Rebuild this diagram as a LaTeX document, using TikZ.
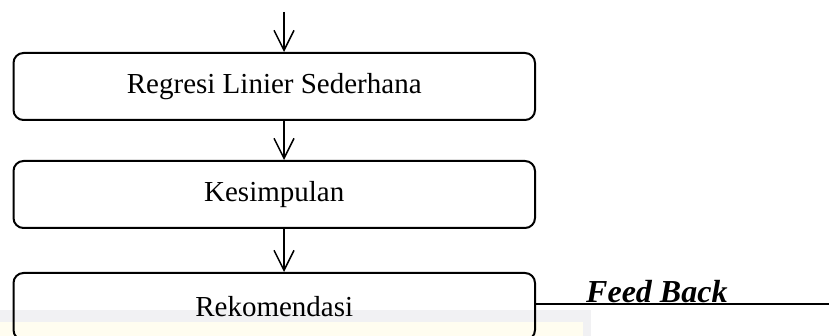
\documentclass[tikz,border=0pt]{standalone}
\usepackage{fontspec}
\setmainfont{Liberation Serif}
\usetikzlibrary{arrows.meta}
\tikzset{
  flowbox/.style={draw, line width=2pt, rounded corners=10pt,
    minimum width=521.5pt, minimum height=67pt, inner sep=0pt,
    font=\fontsize{29}{34}\selectfont},
  flowarrow/.style={line width=1.5pt, -{Straight Barb[length=20pt,width=20pt,line width=1.5pt]}},
  feedline/.style={line width=1.4pt},
}
\begin{document}
\begin{tikzpicture}[x=1pt,y=-1pt]
  \useasboundingbox (0,0) rectangle (829,336);
  % faint highlight strip behind the last box
  \fill[fill={rgb,255:red,241;green,241;blue,243}] (0,310) rectangle (591,340);
  \fill[fill={rgb,255:red,255;green,253;blue,240}] (0,322) rectangle (583,340);

  \node[flowbox] (reg) at (274.25,86.5) {Regresi Linier Sederhana};
  \node[flowbox] (kes) at (274.25,194.5) {Kesimpulan};
  \node[flowbox] (rek) at (274.25,306.5) {Rekomendasi};

  \coordinate (ax) at (284,0);
  \coordinate (start) at (284,12);
  \coordinate (fbend) at (829,304);

  \draw[flowarrow] (start) -- (reg.north -| ax);
  \draw[flowarrow] (reg.south -| ax) -- (kes.north -| ax);
  \draw[flowarrow] (kes.south -| ax) -- (rek.north -| ax);

  \draw[feedline] (fbend -| rek.east) -- (fbend);
  \node[anchor=base west, inner sep=0pt, font=\fontsize{32}{37}\selectfont\bfseries\itshape] (fb) at (586,302) {Feed Back};
\end{tikzpicture}
\end{document}
